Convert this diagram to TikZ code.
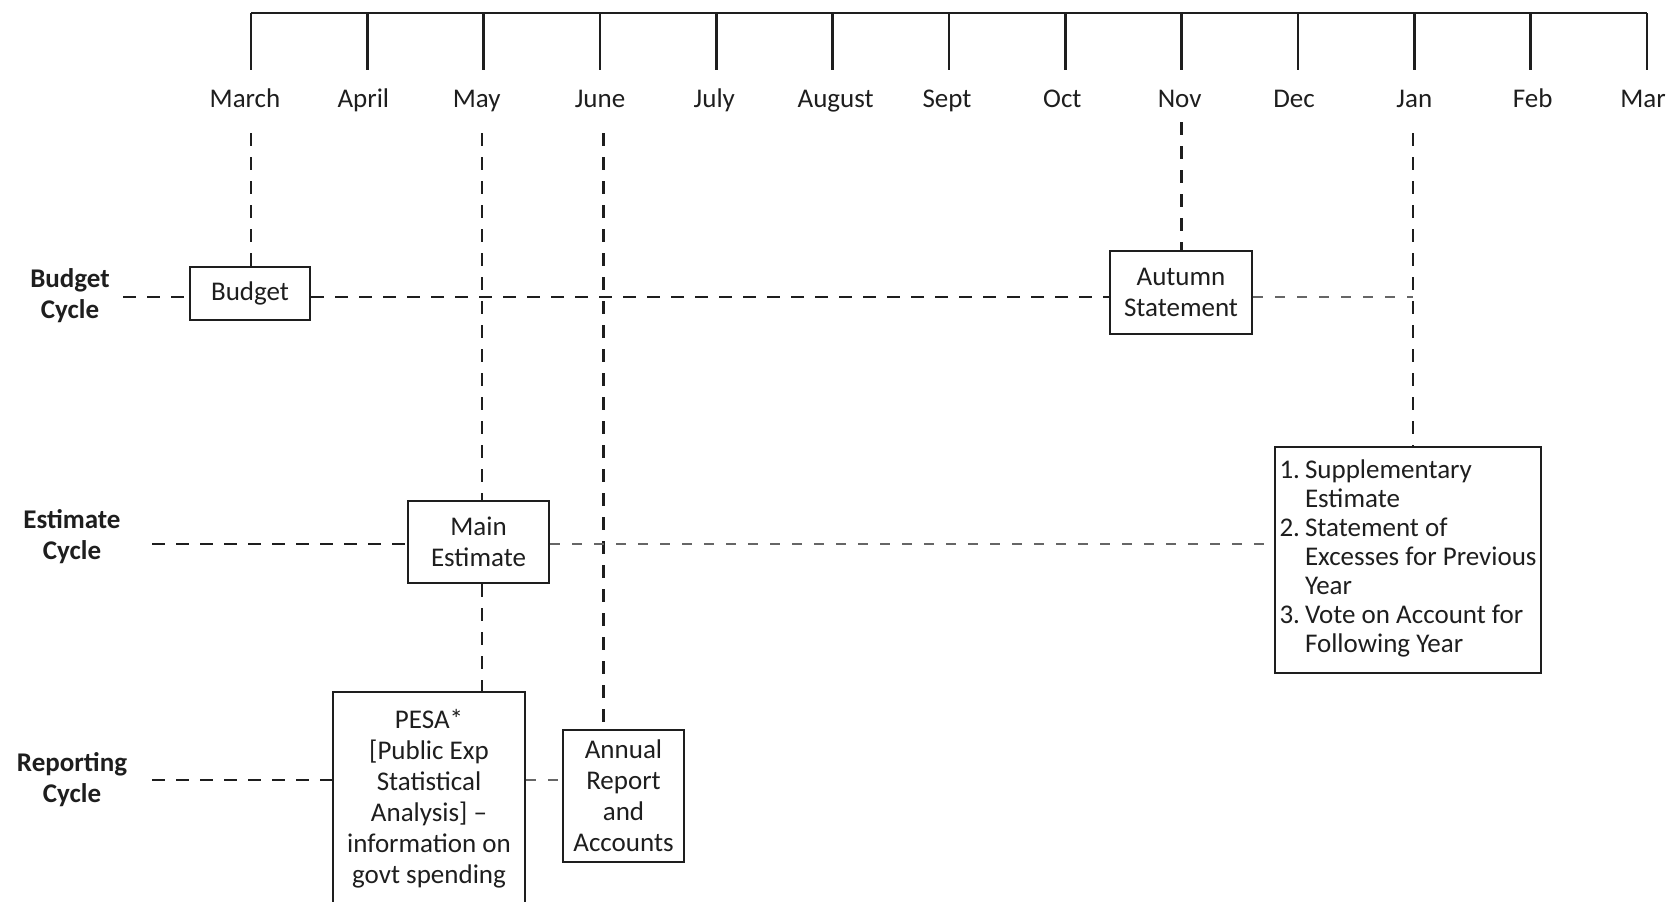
\documentclass[tikz,border=0pt]{standalone}
\usepackage{fontspec}
\setmainfont{Carlito}
\newcommand\fsz{\fontsize{13.5}{15.5}\selectfont}
\definecolor{ink}{HTML}{1E1E1E}
\definecolor{lightdash}{HTML}{666666}
\begin{document}
\begin{tikzpicture}[x=0.5pt,y=-0.5pt,
  box/.style={draw=ink,line width=1.1pt,inner sep=0pt,align=center,font=\fsz,text=ink},
  lab/.style={font=\fsz\bfseries,align=center,inner sep=0pt,text=ink},
  mon/.style={font=\fsz,inner sep=0pt,text=ink,anchor=base},
  tl/.style={draw=ink,line width=1.3pt},
  dk/.style={draw=ink,line width=1.1pt,dash pattern=on 6.5pt off 5.5pt},
  gr/.style={draw=lightdash,line width=1.4pt,dash pattern=on 5pt off 6pt}]
\useasboundingbox (0,0) rectangle (1669,901);
% timeline
\draw[tl] (251,13) -- (1647,13);
\foreach \m/\dx [count=\i from 0] in {March/-6,April/-4,May/-7,June/0,July/-2,August/3,Sept/-2,Oct/-3,Nov/-2,Dec/-4,Jan/0,Feb/2,Mar/-4}{
  \coordinate (t\i) at ({251+116.33*\i},13);
  \draw[tl] (t\i) -- ++(0,57);
  \node[mon] (m\i) at ({251+116.33*\i+\dx},107) {\m};
}
% cycle labels
\node[lab] (lb) at (70,296) {Budget\\Cycle};
\node[lab] (le) at (72,537) {Estimate\\Cycle};
\node[lab] (lr) at (72,780) {Reporting\\Cycle};
% boxes
\node[box,minimum width=60pt,minimum height=26.5pt] (budget) at (250,293.5) {Budget};
\node[box,minimum width=71pt,minimum height=41.5pt] (autumn) at (1181,292.5) {Autumn\\Statement};
\node[box,minimum width=70.5pt,minimum height=41pt] (main) at (478.5,542) {Main\\Estimate};
\node[box,minimum width=133pt,minimum height=113pt,font=\fontsize{13.5}{14.5}\selectfont] (supp) at (1408,560)
 {\begin{tabular}{@{}l@{\hspace{2.5pt}}l@{}}1. & Supplementary\\ & Estimate\\2. & Statement of\\ & Excesses for Previous\\ & Year\\3. & Vote on Account for\\ & Following Year\end{tabular}};
\node[box,minimum width=96pt,minimum height=107pt] (pesa) at (429,799) {PESA*\\{[}Public Exp\\Statistical\\Analysis] --\\information on\\govt spending};
\node[box,minimum width=60.5pt,minimum height=66pt] (annual) at (623.5,796) {Annual\\Report\\and\\Accounts};
% vertical dashed
\coordinate (vMar) at (251,133);
\coordinate (vMay) at (482,133);
\coordinate (vJun) at (603.5,133);
\coordinate (vNov) at (1181.5,122);
\coordinate (vJan) at (1412.7,133);
\draw[dk] (vMar) -- (vMar |- budget.north);
\draw[dk] (vMay) -- (vMay |- main.north);
\draw[dk] (vMay |- main.south) -- (vMay |- pesa.north);
\draw[dk] (vJun) -- (vJun |- annual.north);
\draw[dk] (vNov) -- (vNov |- autumn.north);
\draw[dk] (vJan) -- (vJan |- supp.north);
% horizontal dashed
\coordinate (hB) at (123,297);
\draw[dk] (hB) -- (hB -| budget.west);
\draw[dk] (budget.east |- hB) -- (autumn.west |- hB);
\draw[gr] (autumn.east |- hB) -- (vJan |- hB);
\coordinate (hE) at (152,544);
\draw[dk] (hE) -- (hE -| main.west);
\draw[gr] (main.east |- hE) -- (supp.west |- hE);
\coordinate (hR) at (152,780);
\draw[dk] (hR) -- (hR -| pesa.west);
\draw[gr] (pesa.east |- hR) -- (annual.west |- hR);
\end{tikzpicture}
\end{document}
